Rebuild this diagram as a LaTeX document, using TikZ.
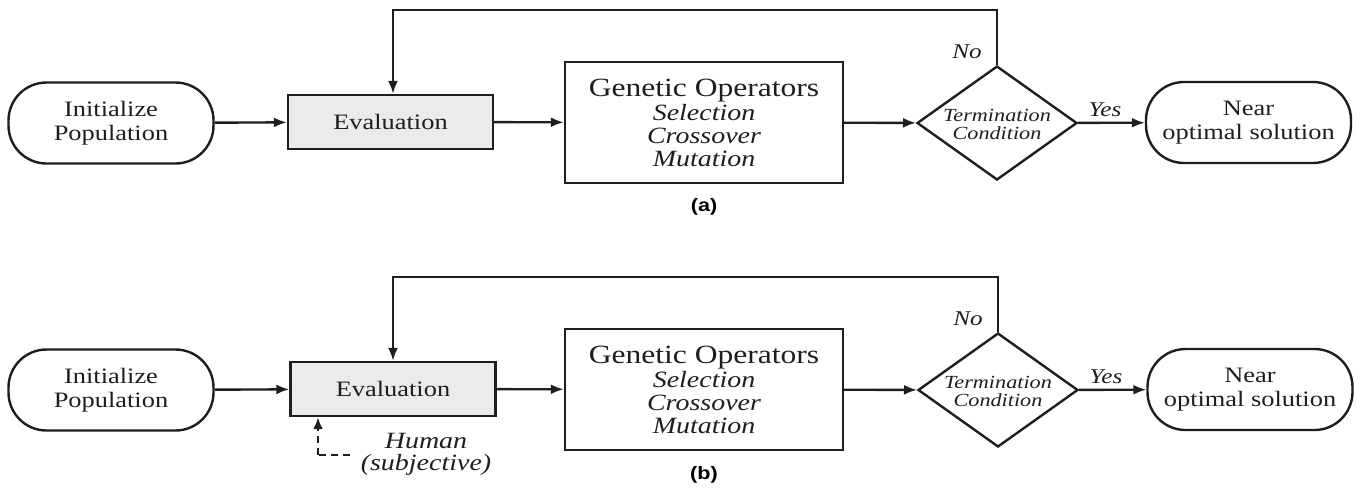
\documentclass[tikz,border=0pt]{standalone}
\usepackage{fontspec}
\setmainfont{Liberation Serif}[FakeStretch=1.2]
\newfontfamily\labfont{Liberation Sans}[FakeStretch=1.2]
\usetikzlibrary{shapes.geometric,arrows.meta}
\definecolor{ink}{HTML}{1E1E1E}
\definecolor{evalgray}{HTML}{EBEBEB}
\tikzset{
  base/.style={draw=ink, line width=2.4pt, inner sep=0pt, text=ink, align=center},
  term/.style={base, rounded corners=38pt, minimum width=205pt, minimum height=81pt, font=\fontsize{22}{23.5}\selectfont},
  evalbox/.style={base, fill=evalgray, minimum width=205pt, minimum height=54pt, font=\fontsize{22}{24}\selectfont},
  opbox/.style={base, minimum width=278pt, minimum height=121pt, font=\fontsize{23.3}{23}\selectfont\itshape},
  decide/.style={base, diamond, minimum width=160pt, minimum height=114pt},
  dtext/.style={text=ink, align=center, inner sep=0pt, font=\fontsize{18.5}{18}\selectfont\itshape},
  lbl/.style={text=ink, inner sep=0pt, font=\fontsize{21}{22}\selectfont\itshape},
  subcap/.style={text=black, inner sep=0pt, font=\labfont\bfseries\fontsize{18}{20}\selectfont},
  conn/.style={draw=ink, line width=2.4pt, -{Latex[length=13pt,width=10pt]}},
  human/.style={draw=ink, line width=2.8pt, dash pattern=on 7pt off 5pt}
}
\begin{document}
\begin{tikzpicture}[x=1pt,y=-1pt]
\useasboundingbox (0,0) rectangle (1356,488);
% ---------- (a) ----------
\node[term] (initA) at (111,123) {Initialize\\Population};
\node[evalbox] (evalA) at (390.5,122) {Evaluation};
\node[opbox] (genA) at (704,122.5) {{\upshape\fontsize{26.3}{27}\selectfont Genetic Operators}\\[1pt]Selection\\Crossover\\Mutation};
\node[decide] (dA) at (997,123) {};
\node[dtext] (dtA) at (997,124) {Termination\\Condition};
\node[term] (nearA) at (1248.5,122.5) {Near\\optimal solution};
\coordinate (fbA) at (393,10);
\draw[conn] (initA) -- (evalA);
\draw[conn] (evalA) -- (genA);
\draw[conn] (genA) -- (dA);
\draw[conn] (dA) -- (nearA);
\draw[conn] (dA.north) |- (fbA) -- (fbA |- evalA.north);
\node[lbl] (noA) at (967,52) {No};
\node[lbl] (yesA) at (1105,110) {Yes};
\node[subcap] (capA) at (704,207) {(a)};
% ---------- (b) ----------
\begin{scope}[yshift=-267pt]
\node[term] (initB) at (111,123) {Initialize\\Population};
\node[evalbox] (evalB) at (393,122) {Evaluation};
\node[opbox] (genB) at (704,122.5) {{\upshape\fontsize{26.3}{27}\selectfont Genetic Operators}\\[1pt]Selection\\Crossover\\Mutation};
\node[decide] (dB) at (998,123) {};
\node[dtext] (dtB) at (998,124) {Termination\\Condition};
\node[term] (nearB) at (1250,122.5) {Near\\optimal solution};
\coordinate (fbB) at (393,10);
\draw[conn] (initB) -- (evalB);
\draw[conn] (evalB) -- (genB);
\draw[conn] (genB) -- (dB);
\draw[conn] (dB) -- (nearB);
\draw[conn] (dB.north) |- (fbB) -- (fbB |- evalB.north);
\node[lbl] (noB) at (968,52) {No};
\node[lbl] (yesB) at (1106,110) {Yes};
\node[subcap] (capB) at (704,208) {(b)};
\coordinate (hsB) at (350,188);
\coordinate (hcB) at (318,188);
\draw[human] (hsB) -- (hcB);
\draw[human, -{Latex[length=12pt,width=10pt]}] (hcB) -- (hcB |- evalB.south);
\node[lbl, align=center, font=\fontsize{23.3}{22}\selectfont\itshape] (humB) at (426,187) {Human\\(subjective)};
\end{scope}
\end{tikzpicture}
\end{document}
